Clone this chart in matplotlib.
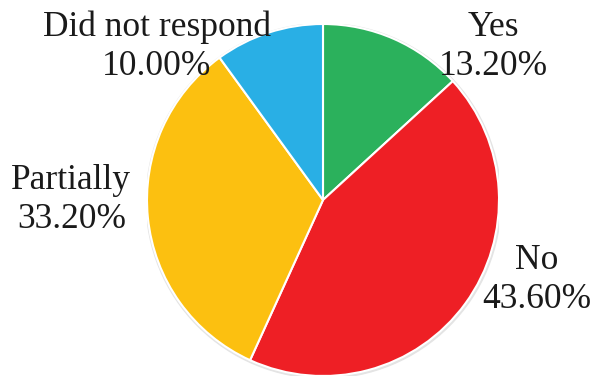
import matplotlib.pyplot as plt
from matplotlib.patches import Circle

# 数据
labels = ['Yes', 'No', 'Partially', 'Did not respond']
values = [13.2, 43.6, 33.2, 10.0]
colors = ['#2bb15c', '#ee1f25', '#fcc010', '#29afe5']
# 标签位置（数据坐标）
label_pos = [(0.966, 0.87), (1.216, -0.455), (-1.43, 0.0), (-0.943, 0.87)]

plt.rcParams['font.family'] = ['Liberation Serif', 'DejaVu Serif']

fig = plt.figure(figsize=(5.95, 3.8), dpi=100)
ax = fig.add_axes([(323 - 176) / 595, (380 - 200 - 176) / 380, 352 / 595, 352 / 380])

# 轻微阴影
ax.add_patch(Circle((0.003, -0.005), 1.008, color='#e4e4e4', zorder=0))

ax.pie(values, colors=colors, startangle=90, counterclock=False, radius=1,
       wedgeprops={'edgecolor': 'white', 'linewidth': 1.5})

for lab, v, (x, y) in zip(labels, values, label_pos):
    ax.text(x, y, f'{lab}\n{v:.2f}%', ha='center', va='center',
            fontsize=25.5, color='#1a1a1a', linespacing=1.22)

ax.set_xlim(-1, 1)
ax.set_ylim(-1, 1)
ax.set_aspect('equal')
ax.axis('off')

fig.savefig('out.png', dpi=100)
